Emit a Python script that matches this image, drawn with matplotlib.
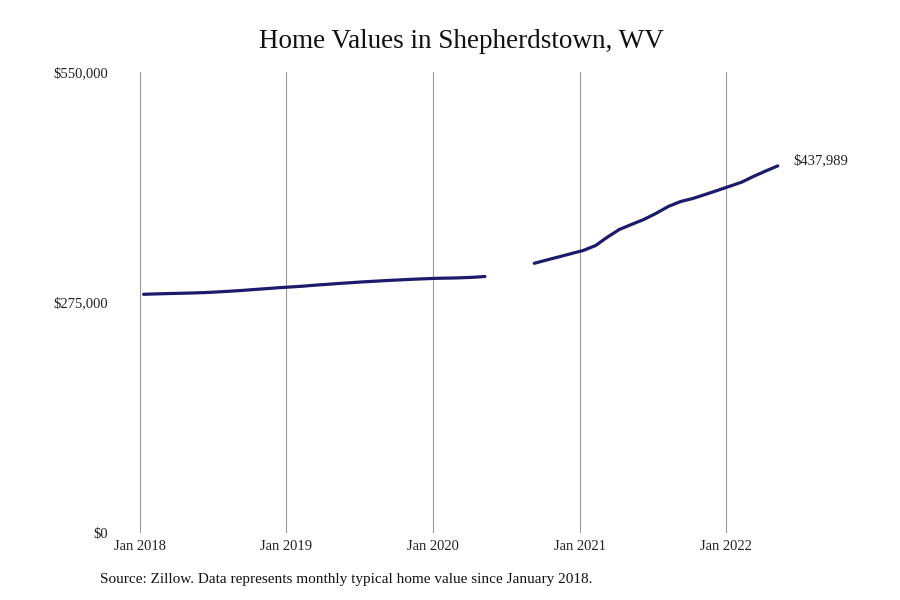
import matplotlib
matplotlib.use("Agg")
import matplotlib.pyplot as plt
import matplotlib.dates as mdates
import numpy as np
import pandas as pd

# Monthly typical home value (Zillow), Jan 2018 - May 2022, Jun-Aug 2020 missing
values_2018_2020 = [
    284780, 285260, 285610, 285970, 286330, 286810, 287520, 288360, 289310, 290390,
    291460, 292530, 293490, 294440, 295520, 296590, 297660, 298620, 299570, 300410,
    301240, 301960, 302680, 303270, 303870, 304110, 304460, 305060, 306010,
]
values_missing = [np.nan, np.nan, np.nan]
values_2020_2022 = [
    321760, 325580, 329400, 333220, 337040, 343000, 352540, 362090, 368050, 374020,
    381180, 389530, 395490, 399070, 403840, 408620, 413630, 418760, 425320, 431880,
    437989,
]
all_values = values_2018_2020 + values_missing + values_2020_2022
# points sit a little after the first of each month in the original
dates = pd.date_range("2018-01-01", periods=len(all_values), freq="MS") + pd.Timedelta(days=9)

year_ticks = pd.to_datetime(["2018-01-01", "2019-01-01", "2020-01-01", "2021-01-01", "2022-01-01"])
year_labels = ["Jan 2018", "Jan 2019", "Jan 2020", "Jan 2021", "Jan 2022"]
y_ticks = [0, 275000, 550000]
y_labels = ["$0", "$275,000", "$550,000"]

plt.rcParams["font.family"] = ["Liberation Serif", "DejaVu Serif"]

fig = plt.figure(figsize=(9, 6), dpi=100)
# axes spans pixels x 115..800, y 72..533
ax = fig.add_axes([115 / 900, 67 / 600, 685 / 900, 461 / 600])

line_color = "#1c1a6b"
ax.plot(dates, all_values, color=line_color, linewidth=2.3, solid_capstyle="round")

# x range chosen so Jan 2018 sits at px 140 and Jan 2022 at px 726
d0 = mdates.date2num(pd.Timestamp("2018-01-01"))
days_per_px = 1461 / 586
ax.set_xlim(d0 - 25 * days_per_px, d0 + 660 * days_per_px)
ax.set_ylim(0, 550000)

ax.set_xticks(year_ticks)
ax.set_xticklabels(year_labels, fontsize=10.5, color="#222222")
ax.set_yticks(y_ticks)
ax.set_yticklabels(y_labels, fontsize=10.5, color="#222222")
ax.tick_params(axis="both", length=0)
ax.tick_params(axis="x", pad=5)
ax.tick_params(axis="y", pad=5)

ax.grid(axis="x", color="#9a9a9a", linewidth=0.8)
ax.grid(axis="y", visible=False)
for s in ax.spines.values():
    s.set_visible(False)

# end label
ax.annotate(
    f"${all_values[-1]:,.0f}",
    xy=(dates[-1], all_values[-1]),
    xytext=(11, 4),
    textcoords="offset points",
    ha="left",
    va="center",
    fontsize=10.5,
    color="#222222",
)

fig.text(461 / 900, 1 - 42 / 600, "Home Values in Shepherdstown, WV",
         ha="center", va="center", fontsize=19.5, color="#111111")
fig.text(100 / 900, 1 - 580 / 600,
         "Source: Zillow. Data represents monthly typical home value since January 2018.",
         ha="left", va="center", fontsize=11, color="#111111")

fig.savefig("out.png", dpi=100)
